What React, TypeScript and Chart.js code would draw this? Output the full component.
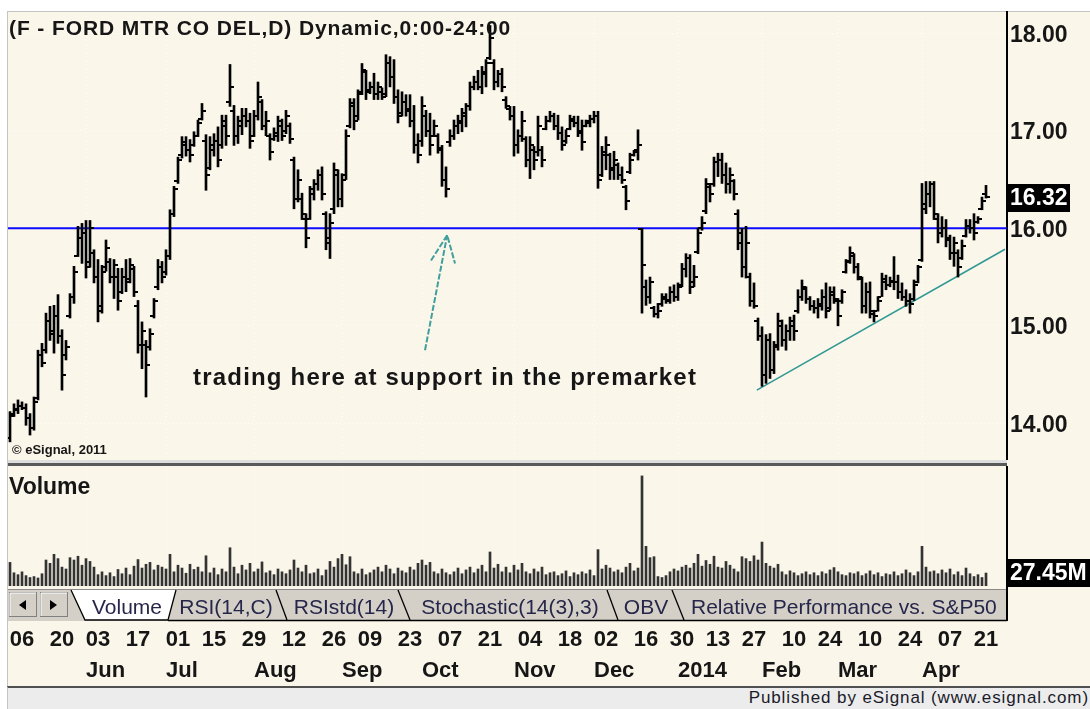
import React, { useEffect, useRef } from "react";
import { Chart, registerables } from "chart.js";
Chart.register(...registerables);

const FONT = '"Liberation Sans", Arial, Helvetica, sans-serif';
const CREAM = "#FBF6EA";
const INK = "#161616";

// ---- Daily OHLC (trading-day index 0 = 2013-05-01 ... 244 = 2014-04-21) ----
const highs = [
  14.12, 14.2, 14.24, 14.22, 14.2, 14.1, 14.27, 14.75, 14.82, 15.13,
  15.2, 15.21, 15.32, 14.96, 14.85, 15.33, 15.61, 16.02, 16.05, 16.08,
  16.08, 15.78, 15.68, 15.62, 15.88, 15.69, 15.68, 15.59, 15.59, 15.68,
  15.69, 15.61, 15.26, 15.04, 14.85, 14.97, 15.28, 15.68, 15.66, 15.78,
  16.19, 16.43, 16.73, 16.94, 16.94, 16.91, 16.99, 17.11, 17.28, 16.96,
  16.94, 16.97, 17.04, 17.16, 17.16, 17.68, 17.26, 17.15, 17.23, 17.23,
  17.18, 17.21, 17.5, 17.32, 17.2, 16.97, 17.03, 17.15, 17.12, 17.21,
  17.08, 16.73, 16.6, 16.36, 16.15, 16.43, 16.5, 16.6, 16.63, 16.17,
  16.15, 16.67, 16.6, 16.56, 17.01, 17.33, 17.33, 17.42, 17.69, 17.62,
  17.5, 17.59, 17.5, 17.44, 17.78, 17.76, 17.73, 17.42, 17.4, 17.37,
  17.37, 17.26, 16.97, 17.35, 17.21, 17.18, 17.11, 16.97, 16.85, 16.63,
  17.01, 17.11, 17.16, 17.23, 17.28, 17.5, 17.56, 17.62, 17.66, 17.73,
  18.08, 17.73, 17.62, 17.64, 17.35, 17.25, 17.25, 17.01, 17.2, 16.94,
  16.94, 16.84, 17.15, 16.84, 17.15, 17.2, 17.18, 17.16, 17.04, 17.01,
  17.16, 17.15, 17.15, 17.11, 17.11, 17.16, 17.2, 17.2, 16.84, 16.94,
  16.77, 16.79, 16.67, 16.63, 16.44, 16.77, 16.8, 17.01, 16.0, 15.47,
  15.5, 15.2, 15.23, 15.33, 15.33, 15.4, 15.42, 15.44, 15.64, 15.74,
  15.73, 15.62, 16.0, 16.12, 16.51, 16.46, 16.73, 16.77, 16.77, 16.67,
  16.62, 16.5, 16.19, 16.0, 16.02, 15.54, 15.44, 15.08, 14.99, 14.91,
  14.92, 14.84, 15.13, 15.06, 15.01, 15.09, 15.11, 15.37, 15.47, 15.4,
  15.3, 15.26, 15.28, 15.37, 15.44, 15.4, 15.4, 15.28, 15.37, 15.68,
  15.81, 15.74, 15.64, 15.5, 15.44, 15.45, 15.16, 15.3, 15.54, 15.52,
  15.5, 15.71, 15.52, 15.44, 15.37, 15.33, 15.47, 15.62, 16.46, 16.48,
  16.48, 16.48, 16.15, 16.12, 16.09, 15.93, 15.91, 15.78, 15.88, 16.09,
  16.09, 16.15, 16.12, 16.32, 16.44,
];
const lows = [
  13.81, 14.07, 14.1, 14.14, 13.98, 13.88, 13.93, 14.24, 14.58, 14.72,
  14.85, 14.72, 14.82, 14.34, 14.65, 15.08, 15.23, 15.71, 15.64, 15.49,
  15.6, 15.44, 15.04, 15.13, 15.56, 15.44, 15.28, 15.16, 15.33, 15.35,
  15.44, 15.3, 14.72, 14.56, 14.27, 14.75, 15.08, 15.37, 15.44, 15.52,
  15.68, 16.12, 16.46, 16.72, 16.74, 16.68, 16.84, 16.94, 17.11, 16.39,
  16.6, 16.74, 16.63, 16.82, 16.85, 17.25, 16.85, 16.87, 16.96, 17.04,
  16.82, 16.94, 17.11, 17.01, 16.95, 16.7, 16.9, 16.89, 16.9, 16.97,
  16.87, 16.2, 16.27, 16.09, 15.8, 16.09, 16.29, 16.39, 16.29, 15.78,
  15.69, 16.15, 16.22, 16.22, 16.5, 17.03, 17.01, 17.11, 17.37, 17.32,
  17.38, 17.32, 17.32, 17.32, 17.35, 17.45, 17.28, 17.08, 17.15, 17.15,
  17.04, 16.77, 16.67, 16.84, 16.94, 16.75, 16.94, 16.77, 16.43, 16.32,
  16.84, 16.91, 16.97, 16.99, 17.04, 17.21, 17.42, 17.42, 17.38, 17.45,
  17.73, 17.42, 17.45, 17.4, 17.23, 17.11, 16.74, 16.77, 16.89, 16.63,
  16.51, 16.6, 16.74, 16.63, 17.01, 17.09, 17.01, 16.91, 16.8, 16.87,
  17.01, 17.04, 16.94, 16.8, 17.04, 17.04, 17.08, 16.41, 16.53, 16.6,
  16.5, 16.5, 16.5, 16.46, 16.19, 16.56, 16.74, 16.7, 15.13, 15.21,
  15.23, 15.09, 15.08, 15.2, 15.23, 15.23, 15.25, 15.26, 15.4, 15.5,
  15.33, 15.4, 15.74, 15.98, 16.15, 16.27, 16.43, 16.53, 16.46, 16.36,
  16.36, 16.29, 15.78, 15.5, 15.49, 15.2, 15.18, 14.85, 14.38, 14.41,
  14.46, 14.51, 14.75, 14.79, 14.75, 14.85, 14.85, 15.13, 15.26, 15.23,
  15.16, 15.13, 15.08, 15.16, 15.08, 15.16, 15.23, 15.0, 15.23, 15.54,
  15.64, 15.54, 15.47, 15.13, 15.13, 15.08, 15.04, 15.15, 15.3, 15.37,
  15.4, 15.37, 15.28, 15.26, 15.2, 15.13, 15.26, 15.44, 15.66, 16.15,
  16.22, 16.09, 15.85, 15.91, 15.81, 15.68, 15.61, 15.5, 15.68, 15.91,
  15.95, 15.88, 16.05, 16.19, 16.31,
];
const opens = [
  13.85, 14.1, 14.14, 14.18, 14.16, 14.05, 13.95, 14.26, 14.7, 14.75,
  15.05, 14.95, 15.1, 14.9, 14.7, 15.1, 15.3, 15.72, 15.9, 15.95,
  15.65, 15.75, 15.5, 15.2, 15.6, 15.65, 15.5, 15.5, 15.35, 15.5,
  15.48, 15.58, 15.2, 14.8, 14.8, 14.78, 15.1, 15.4, 15.6, 15.55,
  15.72, 16.15, 16.48, 16.75, 16.85, 16.8, 16.85, 16.95, 17.12, 16.9,
  16.62, 16.8, 16.9, 16.85, 17.05, 17.3, 17.2, 16.95, 17.05, 17.15,
  17.1, 16.95, 17.15, 17.3, 17.05, 16.95, 16.92, 16.95, 17.05, 17.0,
  17.05, 16.7, 16.3, 16.3, 16.1, 16.1, 16.35, 16.45, 16.55, 16.15,
  15.85, 16.2, 16.55, 16.3, 16.55, 17.05, 17.25, 17.15, 17.4, 17.6,
  17.42, 17.45, 17.38, 17.4, 17.38, 17.7, 17.55, 17.35, 17.18, 17.3,
  17.22, 17.1, 16.85, 16.9, 17.15, 17.0, 16.95, 16.95, 16.8, 16.5,
  16.88, 16.95, 17.05, 17.08, 17.15, 17.25, 17.45, 17.5, 17.45, 17.58,
  17.75, 17.7, 17.5, 17.58, 17.32, 17.22, 17.15, 16.85, 16.95, 16.92,
  16.7, 16.8, 16.78, 16.8, 17.02, 17.1, 17.15, 17.05, 16.98, 16.9,
  17.02, 17.1, 17.08, 17.0, 17.05, 17.08, 17.12, 17.15, 16.55, 16.75,
  16.75, 16.62, 16.65, 16.55, 16.42, 16.58, 16.75, 16.8, 15.99, 15.4,
  15.3, 15.18, 15.12, 15.22, 15.28, 15.26, 15.35, 15.3, 15.42, 15.58,
  15.7, 15.45, 15.76, 16.0, 16.18, 16.42, 16.45, 16.68, 16.7, 16.55,
  16.45, 16.48, 16.15, 15.95, 15.6, 15.5, 15.25, 15.05, 14.9, 14.5,
  14.85, 14.55, 14.8, 15.0, 14.85, 14.95, 15.0, 15.15, 15.3, 15.38,
  15.28, 15.2, 15.18, 15.2, 15.3, 15.18, 15.32, 15.25, 15.25, 15.55,
  15.66, 15.72, 15.6, 15.48, 15.2, 15.35, 15.12, 15.15, 15.3, 15.45,
  15.42, 15.45, 15.45, 15.35, 15.3, 15.25, 15.28, 15.45, 15.68, 16.25,
  16.35, 16.45, 16.1, 15.95, 16.0, 15.88, 15.75, 15.75, 15.7, 15.92,
  16.02, 16.0, 16.06, 16.2, 16.35,
];
const closes = [
  14.08, 14.15, 14.18, 14.16, 14.05, 13.95, 14.22, 14.7, 14.62, 15.05,
  14.92, 15.1, 14.9, 14.5, 14.78, 15.3, 15.55, 15.9, 15.95, 15.6,
  16.0, 15.5, 15.15, 15.55, 15.8, 15.5, 15.62, 15.25, 15.5, 15.45,
  15.62, 15.35, 14.8, 14.95, 14.6, 14.92, 15.25, 15.6, 15.5, 15.72,
  16.15, 16.4, 16.7, 16.88, 16.8, 16.75, 16.95, 17.08, 17.2, 16.55,
  16.85, 16.9, 16.7, 17.1, 16.95, 17.45, 16.95, 17.1, 17.15, 17.1,
  16.9, 17.15, 17.35, 17.05, 17.1, 16.78, 16.98, 17.1, 16.95, 17.15,
  16.92, 16.3, 16.5, 16.15, 15.9, 16.4, 16.45, 16.55, 16.35, 15.9,
  16.05, 16.6, 16.3, 16.5, 16.95, 17.28, 17.1, 17.38, 17.62, 17.4,
  17.45, 17.38, 17.45, 17.35, 17.7, 17.55, 17.35, 17.15, 17.3, 17.2,
  17.1, 16.85, 16.75, 17.25, 17.0, 16.85, 17.05, 16.82, 16.5, 16.4,
  16.95, 17.05, 17.1, 17.18, 17.25, 17.45, 17.5, 17.45, 17.6, 17.7,
  17.95, 17.5, 17.58, 17.45, 17.25, 17.15, 16.85, 16.95, 17.1, 16.7,
  16.85, 16.7, 17.05, 16.7, 17.1, 17.15, 17.05, 16.98, 16.85, 16.95,
  17.12, 17.08, 16.98, 16.88, 17.1, 17.12, 17.15, 16.5, 16.78, 16.85,
  16.6, 16.7, 16.55, 16.5, 16.28, 16.7, 16.78, 16.85, 15.62, 15.3,
  15.45, 15.12, 15.15, 15.3, 15.25, 15.35, 15.3, 15.4, 15.58, 15.7,
  15.4, 15.5, 15.95, 16.05, 16.45, 16.35, 16.68, 16.7, 16.55, 16.45,
  16.55, 16.35, 15.85, 15.6, 15.85, 15.25, 15.2, 14.9, 14.5, 14.85,
  14.55, 14.78, 15.05, 14.85, 14.95, 15.05, 14.95, 15.3, 15.4, 15.28,
  15.2, 15.18, 15.22, 15.3, 15.15, 15.35, 15.28, 15.1, 15.35, 15.65,
  15.75, 15.6, 15.5, 15.2, 15.35, 15.15, 15.1, 15.25, 15.48, 15.42,
  15.46, 15.45, 15.35, 15.3, 15.25, 15.22, 15.42, 15.6, 16.2, 16.35,
  16.45, 16.15, 15.95, 16.0, 15.9, 15.75, 15.85, 15.6, 15.82, 16.02,
  16.0, 15.95, 16.1, 16.28, 16.32,
];
// volume in millions of shares
const volumes = [
  50, 28, 24, 30, 22, 18, 20, 17, 26, 55,
  48, 67, 58, 40, 36, 60, 55, 63, 44, 58,
  52, 40, 24, 30, 22, 28, 20, 35, 26, 38,
  24, 42, 56, 38, 46, 50, 34, 44, 40, 36,
  67, 30, 44, 38, 27, 46, 35, 40, 30, 64,
  28, 38, 24, 36, 30, 81, 40, 26, 44, 34,
  48, 30, 36, 51, 28, 32, 24, 36, 30, 26,
  34, 55, 38, 30, 44, 26, 28, 36, 22, 34,
  52, 40, 58, 67, 45, 62, 30, 26, 36, 24,
  28, 34, 40, 30, 44, 36, 26, 38, 32, 28,
  40, 34, 48, 55, 44, 50, 30, 26, 36, 28,
  24, 30, 38, 26, 34, 40, 28, 36, 44, 30,
  72, 38, 46, 30, 40, 28, 44, 34, 48, 30,
  26, 36, 30, 40, 24, 28, 30, 22, 26, 32,
  20, 28, 24, 30, 26, 34, 22, 77, 36, 44,
  38, 30, 34, 28, 40, 48, 32, 38, 233, 84,
  60, 62, 20, 18, 22, 30, 36, 32, 40, 44,
  38, 48, 67, 42, 54, 46, 63, 40, 38, 52,
  44, 36, 30, 62, 58, 52, 64, 55, 93, 48,
  42, 38, 46, 30, 24, 32, 28, 22, 26, 30,
  24, 28, 22, 30, 26, 34, 39, 30, 24, 22,
  28, 26, 30, 22, 26, 32, 24, 28, 20, 26,
  24, 30, 22, 26, 34, 28, 22, 30, 84, 40,
  30, 32, 26, 34, 28, 36, 24, 30, 22, 38,
  26, 20, 24, 18, 27.45,
];

const priceTicks = [14, 15, 16, 17, 18];
const dayTickIdx = [3, 13, 22, 32, 42, 51, 61, 71, 81, 90, 100, 110, 120, 130, 140, 149, 159, 168, 177, 186, 196, 205, 215, 225, 235, 244];
const dayTickLabels = ["06", "20", "03", "17", "01", "15", "29", "12", "26", "09", "23", "07", "21", "04", "18", "02", "16", "30", "13", "27", "10", "24", "10", "24", "07", "21"];
const monthIdx = [19, 39, 61, 83, 103, 126, 146, 167, 188, 207, 228];
const monthLabels = ["Jun", "Jul", "Aug", "Sep", "Oct", "Nov", "Dec", "2014", "Feb", "Mar", "Apr"];
const tabLabels = ["Volume", "RSI(14,C)", "RSIstd(14)", "Stochastic(14(3),3)", "OBV", "Relative Performance vs. S&P50"];

const supportLevel = 16.0;
const lastPrice = 16.32;
const lastVolumeLabel = "27.45M";
const trendLine = [{ x: 186.7, y: 14.34 }, { x: 248.75, y: 15.785 }];
const arrowShaft = [{ x: 103.75, y: 14.75 }, { x: 109.3, y: 15.93 }];
const arrowHead = [{ x: 105.25, y: 15.67 }, { x: 109.3, y: 15.93 }, { x: 111.25, y: 15.64 }];

const X_MIN = -0.5;
const X_MAX = 249.25;
const P_MIN = 13.624;
const P_MAX = 18.218;
const V_MAX = 254;

function tickImage(side: "left" | "right") {
  const c = document.createElement("canvas");
  c.width = 8;
  c.height = 2;
  const g = c.getContext("2d")!;
  g.fillStyle = "#000";
  if (side === "left") g.fillRect(0, 0, 3, 2);
  else g.fillRect(5, 0, 3, 2);
  return c;
}

function drawMonthGrid(chart: any) {
  const { ctx, chartArea: a, scales } = chart;
  const x = scales.x;
  ctx.save();
  ctx.strokeStyle = "#ffffff";
  ctx.lineWidth = 1;
  ctx.setLineDash([1, 3]);
  monthIdx.forEach((m) => {
    const px = Math.round(x.getPixelForValue(m)) + 0.5;
    ctx.beginPath();
    ctx.moveTo(px, a.top);
    ctx.lineTo(px, a.bottom);
    ctx.stroke();
  });
  ctx.restore();
}

const pricePlugin = {
  id: "priceDecor",
  beforeDatasetsDraw(chart: any) {
    drawMonthGrid(chart);
  },
  afterDraw(chart: any) {
    const { ctx, chartArea: a, scales } = chart;
    const py = scales.y.getPixelForValue(lastPrice);
    ctx.save();
    ctx.fillStyle = "#000";
    ctx.fillRect(a.right + 1, Math.round(py - 13), 62, 28);
    ctx.fillStyle = "#fff";
    ctx.font = `bold 23px ${FONT}`;
    ctx.textAlign = "left";
    ctx.textBaseline = "middle";
    ctx.fillText(lastPrice.toFixed(2), a.right + 3, py + 2);
    ctx.restore();
  },
};

const volPlugin = {
  id: "volDecor",
  beforeDatasetsDraw(chart: any) {
    drawMonthGrid(chart);
  },
  afterDraw(chart: any) {
    const { ctx, chartArea: a, scales } = chart;
    ctx.save();
    ctx.fillStyle = INK;
    ctx.font = `bold 22px ${FONT}`;
    ctx.textAlign = "left";
    ctx.textBaseline = "middle";
    monthLabels.forEach((lab, k) => {
      ctx.fillText(lab, scales.x.getPixelForValue(monthIdx[k]), a.bottom + 85);
    });
    const py = scales.y.getPixelForValue(volumes[volumes.length - 1]);
    ctx.fillStyle = "#000";
    ctx.fillRect(a.right + 1, Math.round(py - 14), 83, 28);
    ctx.fillStyle = "#fff";
    ctx.font = `bold 23px ${FONT}`;
    ctx.fillText(lastVolumeLabel, a.right + 3, py + 1);
    ctx.restore();
  },
};

export default function App() {
  const priceRef = useRef<HTMLCanvasElement>(null);
  const volRef = useRef<HTMLCanvasElement>(null);

  useEffect(() => {
    const openImg = tickImage("left");
    const closeImg = tickImage("right");
    const idx = highs.map((_, i) => i);

    const price = new Chart(priceRef.current!, {
      type: "line",
      data: {
        datasets: [
          {
            type: "line",
            data: opens.map((o, i) => ({ x: idx[i], y: o })),
            showLine: false,
            pointStyle: openImg as any,
            pointRadius: 3,
            order: 0,
          } as any,
          {
            type: "line",
            data: closes.map((c, i) => ({ x: idx[i], y: c })),
            showLine: false,
            pointStyle: closeImg as any,
            pointRadius: 3,
            order: 0,
          } as any,
          {
            type: "bar",
            data: highs.map((h, i) => ({ x: idx[i], y: [lows[i], h] })),
            backgroundColor: "#000",
            barThickness: 2,
            grouped: false,
            order: 1,
          } as any,
          {
            type: "line",
            data: arrowShaft,
            borderColor: "#3f9f9d",
            borderWidth: 2,
            borderDash: [6, 2],
            pointRadius: 0,
            order: 2,
          },
          {
            type: "line",
            data: arrowHead,
            borderColor: "#3f9f9d",
            borderWidth: 2,
            borderDash: [6, 2],
            pointRadius: 0,
            order: 2,
          },
          {
            type: "line",
            data: trendLine,
            borderColor: "#2f9893",
            borderWidth: 1.5,
            pointRadius: 0,
            order: 3,
          },
          {
            type: "line",
            data: [{ x: X_MIN, y: supportLevel }, { x: X_MAX, y: supportLevel }],
            borderColor: "#0b0bff",
            borderWidth: 2,
            pointRadius: 0,
            order: 4,
          },
        ],
      },
      options: {
        animation: false,
        responsive: false,
        maintainAspectRatio: false,
        devicePixelRatio: 1,
        events: [],
        layout: { autoPadding: false, padding: { left: 8, top: 12, right: 0, bottom: 0 } },
        plugins: { legend: { display: false }, tooltip: { enabled: false }, title: { display: false } },
        scales: {
          x: { type: "linear", min: X_MIN, max: X_MAX, display: false, offset: false, grid: { offset: false } },
          y: {
            type: "linear",
            position: "right",
            min: P_MIN,
            max: P_MAX,
            afterBuildTicks: (s: any) => {
              s.ticks = priceTicks.map((v) => ({ value: v }));
            },
            afterFit: (s: any) => {
              s.width = 83;
              s.paddingTop = 0;
              s.paddingBottom = 0;
            },
            ticks: {
              callback: (v: any) => Number(v).toFixed(2),
              font: { family: FONT, size: 23, weight: "bold" },
              color: INK,
              padding: 3,
              labelOffset: 2,
            },
            grid: { color: "#ffffff", lineWidth: 1, drawTicks: false },
            border: { display: true, color: "#000", width: 2, dash: [1, 3] },
          },
        },
      } as any,
      plugins: [pricePlugin],
    });

    const vol = new Chart(volRef.current!, {
      type: "line",
      data: {
        datasets: [
          {
            type: "bar",
            data: volumes.map((v, i) => ({ x: idx[i], y: v })),
            backgroundColor: "#333333",
            barThickness: 2,
            grouped: false,
          } as any,
        ],
      },
      options: {
        animation: false,
        responsive: false,
        maintainAspectRatio: false,
        devicePixelRatio: 1,
        events: [],
        layout: { autoPadding: false, padding: { left: 8, top: 0, right: 0, bottom: 0 } },
        plugins: { legend: { display: false }, tooltip: { enabled: false } },
        scales: {
          x: {
            type: "linear",
            position: "bottom",
            min: X_MIN,
            max: X_MAX,
            offset: false,
            afterBuildTicks: (s: any) => {
              s.ticks = dayTickIdx.map((v) => ({ value: v }));
            },
            afterFit: (s: any) => {
              s.height = 102;
              s.paddingLeft = 0;
              s.paddingRight = 0;
            },
            ticks: {
              autoSkip: false,
              maxRotation: 0,
              minRotation: 0,
              callback: (_v: any, i: number) => dayTickLabels[i] ?? "",
              font: { family: FONT, size: 22, weight: "bold" },
              color: INK,
              padding: 41,
            },
            grid: { display: false, drawTicks: false, offset: false },
            border: { display: false },
          },
          y: {
            type: "linear",
            position: "right",
            min: 0,
            max: V_MAX,
            afterFit: (s: any) => {
              s.width = 83;
              s.paddingTop = 0;
              s.paddingBottom = 0;
            },
            ticks: { display: false },
            grid: { display: false, drawTicks: false },
            border: { display: true, color: "#000", width: 2 },
          },
        },
      } as any,
      plugins: [volPlugin],
    });

    return () => {
      price.destroy();
      vol.destroy();
    };
  }, []);

  const tabText = { fontFamily: FONT, fontSize: 21, fill: "#26264a" } as any;

  return (
    <div style={{ position: "absolute", left: 0, top: 0, width: 1090, height: 709, background: "#fff", overflow: "hidden", fontFamily: FONT }}>
      <div style={{ position: "absolute", left: 7, top: 11, width: 1083, height: 677, background: CREAM, borderLeft: "1px solid #c4c4c4", borderTop: "1px solid #c4c4c4", boxSizing: "border-box" }} />
      <div style={{ position: "absolute", left: 7, top: 686, width: 1083, height: 23, background: "#ECECEC", borderTop: "2px solid #505050", borderLeft: "1px solid #c4c4c4", boxSizing: "border-box" }} />
      <canvas ref={priceRef} width={1090} height={460} style={{ position: "absolute", left: 0, top: 0 }} />
      <div style={{ position: "absolute", left: 8, top: 460, width: 999, height: 6, background: "linear-gradient(#dedede 0 3px, #5a5a5a 3px 6px)" }} />
      <canvas ref={volRef} width={1090} height={222} style={{ position: "absolute", left: 0, top: 466 }} />

      <div style={{ position: "absolute", left: 9, top: 17, fontSize: 21, lineHeight: "21px", fontWeight: "bold", letterSpacing: "0.9px", color: INK, whiteSpace: "nowrap" }}>
        (F - FORD MTR CO DEL,D) Dynamic,0:00-24:00
      </div>
      <div style={{ position: "absolute", left: 193, top: 365, fontSize: 24, lineHeight: "24px", fontWeight: "bold", letterSpacing: "1.2px", color: INK, whiteSpace: "nowrap" }}>
        trading here at support in the premarket
      </div>
      <div style={{ position: "absolute", left: 12, top: 443, fontSize: 13, lineHeight: "13px", fontWeight: "bold", color: INK, whiteSpace: "nowrap" }}>
        © eSignal, 2011
      </div>
      <div style={{ position: "absolute", left: 9, top: 475, fontSize: 23, lineHeight: "23px", fontWeight: "bold", color: INK, whiteSpace: "nowrap" }}>
        Volume
      </div>
      <div style={{ position: "absolute", right: 1, top: 689, fontSize: 17, lineHeight: "17px", letterSpacing: "0.9px", color: "#1a1a2a", whiteSpace: "nowrap" }}>
        Published by eSignal (www.esignal.com)
      </div>

      <svg width={1090} height={709} style={{ position: "absolute", left: 0, top: 0, pointerEvents: "none" }}>
        <defs>
          <clipPath id="tabclip">
            <rect x={8} y={588} width={999} height={34} />
          </clipPath>
        </defs>
        <rect x={8} y={589} width={999} height={32} fill="#D4D0C8" />
        <line x1={8} y1={589.5} x2={1007} y2={589.5} stroke="#8a8a8a" />
        <rect x={9.5} y={592.5} width={27} height={24} fill="#D4D0C8" stroke="#808080" />
        <polyline points="10,616 10,593 36,593" stroke="#fff" fill="none" />
        <polygon points="19,605 26,600 26,610" fill="#000" />
        <rect x={40.5} y={592.5} width={27} height={24} fill="#D4D0C8" stroke="#808080" />
        <polyline points="41,616 41,593 67,593" stroke="#fff" fill="none" />
        <polygon points="57,605 50,600 50,610" fill="#000" />
        <polygon points="71,590 176,590 168,620 85,620" fill="#fff" />
        <polyline points="71,590 85,620 168,620 176,590" stroke="#000" strokeWidth={1.3} fill="none" />
        <line x1={276} y1={590} x2={287} y2={620} stroke="#000" strokeWidth={1.3} />
        <line x1={398} y1={590} x2={410} y2={620} stroke="#000" strokeWidth={1.3} />
        <line x1={607} y1={590} x2={618} y2={620} stroke="#000" strokeWidth={1.3} />
        <line x1={672} y1={590} x2={684} y2={620} stroke="#000" strokeWidth={1.3} />
        <line x1={168} y1={620.5} x2={1007} y2={620.5} stroke="#000" strokeWidth={1.5} />
        <line x1={1007} y1={586} x2={1007} y2={621} stroke="#000" strokeWidth={2} />
        <g clipPath="url(#tabclip)">
          <text x={127} y={614} textAnchor="middle" style={tabText}>{tabLabels[0]}</text>
          <text x={226} y={614} textAnchor="middle" style={tabText}>{tabLabels[1]}</text>
          <text x={344} y={614} textAnchor="middle" style={tabText}>{tabLabels[2]}</text>
          <text x={510} y={614} textAnchor="middle" style={tabText}>{tabLabels[3]}</text>
          <text x={646} y={614} textAnchor="middle" style={tabText}>{tabLabels[4]}</text>
          <text x={691} y={614} textAnchor="start" style={tabText}>{tabLabels[5]}</text>
        </g>
      </svg>
    </div>
  );
}
